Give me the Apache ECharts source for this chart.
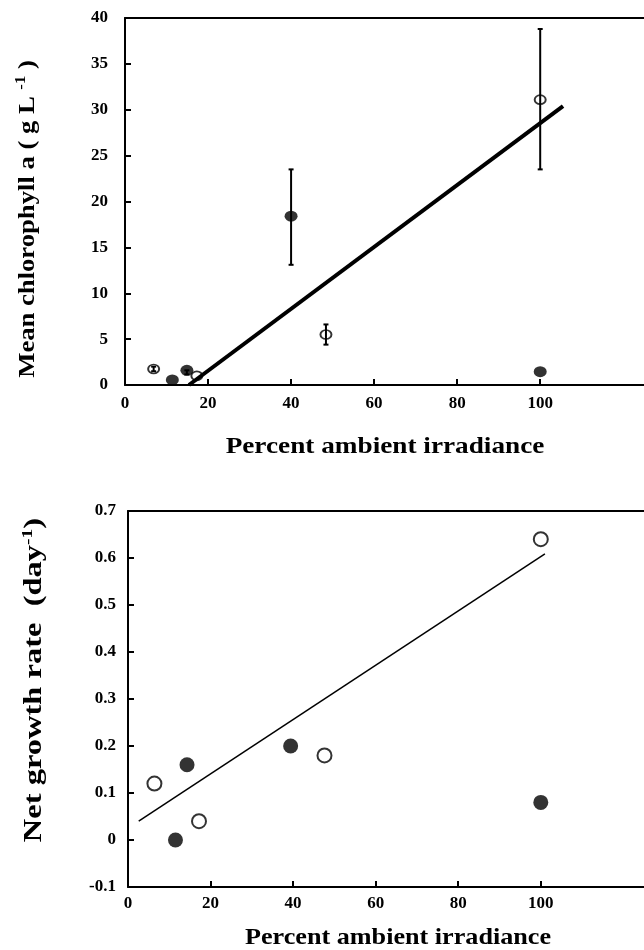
<!DOCTYPE html>
<html>
<head>
<meta charset="utf-8">
<script src="https://cdn.jsdelivr.net/npm/echarts@6/dist/echarts.min.js"></script>
<style>
  html, body { margin: 0; padding: 0; background: #fff; }
  #chart { width: 644px; height: 950px; }
</style>
</head>
<body>
<div id="chart"></div>
<script>
// top panel: chlorophyll vs irradiance
var chlFilledX = [11.4, 14.9, 40, 100];
var chlFilledY = [0.55, 1.6, 18.4, 1.45];
var chlOpenX = [6.9, 17.3, 48.4, 100];
var chlOpenY = [1.75, 1.0, 5.5, 31.1];
var chlErrX = [6.9, 14.9, 40, 48.4, 100];
var chlErrLow = [1.5, 1.15, 13.1, 4.4, 23.5];
var chlErrHigh = [2.0, 1.6, 23.5, 6.6, 38.8];
var chlFitX = [15.4, 105.5];
var chlFitY = [0, 30.4];

// bottom panel: growth rate vs irradiance
var grFilledX = [11.5, 14.3, 39.4, 100];
var grFilledY = [0, 0.16, 0.2, 0.08];
var grOpenX = [6.4, 17.2, 47.6, 100];
var grOpenY = [0.12, 0.04, 0.18, 0.64];
var grFitX = [2.6, 101];
var grFitY = [0.04, 0.609];

var xTicks = [0, 20, 40, 60, 80, 100];

var FONT = 'Liberation Serif';

function zip(xs, ys) {
  return xs.map(function(x, i) { return [x, ys[i]]; });
}

function errItem(params, api) {
  var x = api.value(0);
  var lo = api.coord([x, api.value(1)]);
  var hi = api.coord([x, api.value(2)]);
  var cap = 2.5;
  var st = { stroke: '#000', lineWidth: 2 };
  return {
    type: 'group',
    children: [
      { type: 'line', shape: { x1: lo[0], y1: lo[1], x2: hi[0], y2: hi[1] }, style: st },
      { type: 'line', shape: { x1: lo[0] - cap, y1: lo[1], x2: lo[0] + cap, y2: lo[1] }, style: st },
      { type: 'line', shape: { x1: hi[0] - cap, y1: hi[1], x2: hi[0] + cap, y2: hi[1] }, style: st }
    ]
  };
}

function bottomX(gi, margin) {
  return {
    type: 'value', gridIndex: gi, min: 0, max: 125, interval: 20,
    axisLine: { show: true, onZero: false, lineStyle: { color: '#000', width: 2 } },
    axisTick: { show: true, inside: true, length: 6, customValues: xTicks, lineStyle: { color: '#000', width: 2 } },
    axisLabel: { customValues: xTicks, margin: margin, color: '#000', fontFamily: FONT, fontWeight: 'bold', fontSize: 17 },
    splitLine: { show: false }
  };
}

function topX(gi) {
  return {
    type: 'value', gridIndex: gi, position: 'top', min: 0, max: 125,
    axisLine: { show: true, onZero: false, lineStyle: { color: '#000', width: 2 } },
    axisTick: { show: false }, axisLabel: { show: false }, splitLine: { show: false }
  };
}

function yTitle(x, y, main, tail, size, stretch) {
  return {
    type: 'text', x: x, y: y, rotation: Math.PI / 2, scaleX: stretch,
    style: {
      text: '{m|' + main + '}{s|-1}{m|' + tail + '}',
      align: 'center', verticalAlign: 'middle',
      rich: {
        m: { fontFamily: FONT, fontWeight: 'bold', fontSize: size, lineHeight: size + 4, fill: '#000' },
        s: { fontFamily: FONT, fontWeight: 'bold', fontSize: 15, lineHeight: 15, verticalAlign: 'top', fill: '#000' }
      }
    }
  };
}

function xTitle(x, y, stretch) {
  return {
    type: 'text', x: x, y: y, scaleX: stretch,
    style: { text: 'Percent ambient irradiance', font: 'bold 24px "Liberation Serif"', fill: '#000', align: 'center', verticalAlign: 'middle' }
  };
}

var chart = echarts.init(document.getElementById('chart'));

chart.setOption({
  backgroundColor: '#fff',
  animation: false,
  grid: [
    { left: 125, top: 18, height: 367, right: -3 },
    { left: 128, top: 511, height: 376, right: -3 }
  ],
  xAxis: [bottomX(0, 10), topX(0), bottomX(1, 8), topX(1)],
  yAxis: [
    {
      type: 'value', gridIndex: 0, min: 0, max: 40, interval: 5,
      axisLine: { show: true, onZero: false, lineStyle: { color: '#000', width: 2 } },
      axisTick: { show: true, inside: true, length: 6, lineStyle: { color: '#000', width: 2 } },
      axisLabel: { margin: 17, color: '#000', fontFamily: FONT, fontWeight: 'bold', fontSize: 17 },
      splitLine: { show: false }
    },
    {
      type: 'value', gridIndex: 1, min: -0.1, max: 0.7, interval: 0.1,
      axisLine: { show: true, onZero: false, lineStyle: { color: '#000', width: 2 } },
      axisTick: { show: true, inside: true, length: 6, lineStyle: { color: '#000', width: 2 } },
      axisLabel: {
        margin: 12, color: '#000', fontFamily: FONT, fontWeight: 'bold', fontSize: 17,
        formatter: function(v) { return Math.abs(v) < 1e-9 ? '0' : v.toFixed(1); }
      },
      splitLine: { show: false }
    }
  ],
  series: [
    {
      type: 'custom', xAxisIndex: 0, yAxisIndex: 0, renderItem: errItem,
      encode: { x: 0, y: [1, 2] },
      data: chlErrX.map(function(x, i) { return [x, chlErrLow[i], chlErrHigh[i]]; }),
      z: 1
    },
    {
      type: 'scatter', xAxisIndex: 0, yAxisIndex: 0, symbol: 'circle', symbolSize: [13, 11],
      itemStyle: { color: '#000' }, data: zip(chlFilledX, chlFilledY), z: 2
    },
    {
      type: 'scatter', xAxisIndex: 0, yAxisIndex: 0, symbol: 'circle', symbolSize: [11, 9],
      itemStyle: { color: 'rgba(255,255,255,0)', borderColor: '#000', borderWidth: 1.8 },
      data: zip(chlOpenX, chlOpenY), z: 2
    },
    {
      type: 'line', xAxisIndex: 0, yAxisIndex: 0, symbol: 'none', clip: false,
      lineStyle: { color: '#000', width: 4 }, data: zip(chlFitX, chlFitY), z: 3
    },
    {
      type: 'scatter', xAxisIndex: 2, yAxisIndex: 1, symbol: 'circle', symbolSize: 15,
      itemStyle: { color: '#000' }, data: zip(grFilledX, grFilledY), z: 2
    },
    {
      type: 'scatter', xAxisIndex: 2, yAxisIndex: 1, symbol: 'circle', symbolSize: 14,
      itemStyle: { color: '#fff', borderColor: '#000', borderWidth: 2 },
      data: zip(grOpenX, grOpenY), z: 2
    },
    {
      type: 'line', xAxisIndex: 2, yAxisIndex: 1, symbol: 'none', clip: false,
      lineStyle: { color: '#000', width: 1.5 }, data: zip(grFitX, grFitY), z: 3
    }
  ],
  graphic: [
    xTitle(385, 447, 1.135),
    xTitle(398, 938, 1.09),
    yTitle(28, 219, 'Mean chlorophyll a ( g L ', ' )', 24, 1.11),
    yTitle(35, 680, 'Net growth rate  (day', ')', 25, 1.3)
  ]
});
</script>
</body>
</html>
